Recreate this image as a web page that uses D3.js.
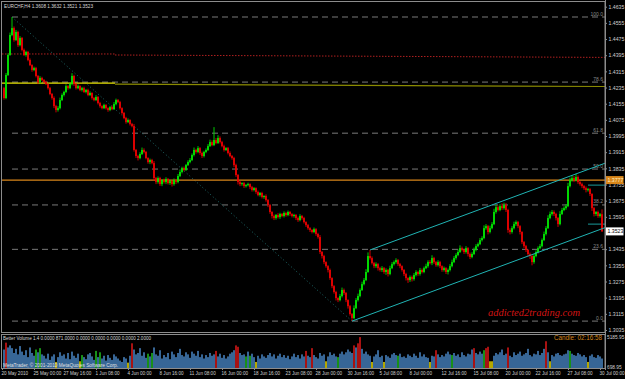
<!DOCTYPE html>
<html>
<head>
<meta charset="utf-8">
<script src="https://cdn.jsdelivr.net/npm/d3@7"></script>
<style>
  body { margin: 0; background: #000; }
  svg { display: block; }
</style>
</head>
<body>
<div id="chart"></div>
<script>
// EURCHF,H4 - closes, open = previous close
var firstOpen = 1.4232;
var closes = [
  1.4183, 1.4297, 1.4396, 1.4495, 1.4529, 1.4470, 1.4510, 1.4445, 1.4480, 1.4421,
  1.4396, 1.4411, 1.4371, 1.4346, 1.4322, 1.4331, 1.4292, 1.4262, 1.4282, 1.4272,
  1.4262, 1.4252, 1.4232, 1.4203, 1.4183, 1.4143, 1.4124, 1.4133, 1.4173, 1.4198,
  1.4213, 1.4242, 1.4232, 1.4252, 1.4292, 1.4252, 1.4232, 1.4242, 1.4223, 1.4232,
  1.4213, 1.4223, 1.4198, 1.4208, 1.4183, 1.4173, 1.4188, 1.4158, 1.4143, 1.4133,
  1.4148, 1.4133, 1.4124, 1.4138, 1.4128, 1.4153, 1.4173, 1.4163, 1.4133, 1.4109,
  1.4084, 1.4064, 1.4074, 1.4054, 1.4044, 1.3926, 1.3896, 1.3886, 1.3906, 1.3926,
  1.3916, 1.3886, 1.3866, 1.3876, 1.3861, 1.3787, 1.3767, 1.3787, 1.3757, 1.3777,
  1.3767, 1.3782, 1.3762, 1.3772, 1.3757, 1.3777, 1.3767, 1.3797, 1.3817, 1.3836,
  1.3827, 1.3851, 1.3866, 1.3876, 1.3901, 1.3926, 1.3916, 1.3935, 1.3911, 1.3896,
  1.3916, 1.3926, 1.3945, 1.3965, 1.3950, 1.3975, 1.3960, 1.3985, 1.3965, 1.3945,
  1.3926, 1.3935, 1.3911, 1.3896, 1.3886, 1.3851, 1.3802, 1.3767, 1.3757, 1.3762,
  1.3747, 1.3752, 1.3757, 1.3742, 1.3728, 1.3737, 1.3718, 1.3703, 1.3713, 1.3693,
  1.3698, 1.3678, 1.3653, 1.3619, 1.3599, 1.3589, 1.3604, 1.3594, 1.3609, 1.3599,
  1.3614, 1.3604, 1.3619, 1.3609, 1.3599, 1.3604, 1.3589, 1.3579, 1.3599, 1.3589,
  1.3569, 1.3554, 1.3539, 1.3530, 1.3520, 1.3534, 1.3510, 1.3495, 1.3421, 1.3401,
  1.3371, 1.3351, 1.3332, 1.3292, 1.3252, 1.3223, 1.3193, 1.3183, 1.3203, 1.3233,
  1.3218, 1.3183, 1.3153, 1.3114, 1.3094, 1.3143, 1.3183, 1.3203, 1.3233, 1.3262,
  1.3282, 1.3322, 1.3401, 1.3391, 1.3366, 1.3351, 1.3361, 1.3341, 1.3332, 1.3341,
  1.3322, 1.3332, 1.3312, 1.3341, 1.3361, 1.3371, 1.3381, 1.3361, 1.3351, 1.3332,
  1.3312, 1.3292, 1.3282, 1.3297, 1.3287, 1.3307, 1.3322, 1.3312, 1.3332, 1.3322,
  1.3341, 1.3351, 1.3371, 1.3366, 1.3391, 1.3371, 1.3356, 1.3371, 1.3351, 1.3332,
  1.3341, 1.3322, 1.3332, 1.3351, 1.3371, 1.3391, 1.3406, 1.3421, 1.3440, 1.3431,
  1.3421, 1.3440, 1.3411, 1.3396, 1.3411, 1.3431, 1.3450, 1.3460, 1.3480, 1.3490,
  1.3539, 1.3549, 1.3520, 1.3539, 1.3559, 1.3619, 1.3643, 1.3629, 1.3648, 1.3638,
  1.3653, 1.3629, 1.3530, 1.3520, 1.3539, 1.3559, 1.3569, 1.3549, 1.3520, 1.3470,
  1.3450, 1.3431, 1.3411, 1.3401, 1.3371, 1.3401, 1.3421, 1.3440, 1.3450, 1.3480,
  1.3510, 1.3539, 1.3589, 1.3609, 1.3619, 1.3609, 1.3589, 1.3559, 1.3609, 1.3629,
  1.3638, 1.3648, 1.3747, 1.3777, 1.3787, 1.3777, 1.3792, 1.3767, 1.3757, 1.3747,
  1.3737, 1.3728, 1.3732, 1.3708, 1.3638, 1.3609, 1.3619, 1.3599, 1.3608, 1.3523
];
// wick lengths in pips above / below the body
var hiWick = [
  6,10,8,12,55,8,10,6,9,5,7,6,5,8,4,7,6,5,9,6,
  5,7,4,6,5,8,6,10,12,8,6,9,5,7,14,6,5,8,4,6,
  7,5,6,8,4,5,9,5,6,4,7,5,4,6,8,10,7,5,6,4,
  5,6,8,4,6,10,5,6,9,12,8,5,4,7,6,10,5,8,6,4,
  7,9,5,6,4,8,6,10,12,7,8,6,9,10,8,12,6,10,5,7,
  6,8,10,12,9,64,10,14,8,6,7,5,6,8,5,6,7,5,6,4,
  6,5,7,4,6,5,4,7,5,6,4,8,5,6,4,7,5,9,6,5,
  8,6,7,5,4,6,5,7,9,5,6,4,6,5,4,8,5,6,10,5,
  6,4,5,7,4,5,6,4,10,12,7,5,4,6,5,14,10,12,8,12,
  10,14,18,30,8,6,9,5,7,10,6,8,5,12,10,8,9,5,6,4,
  5,6,4,8,7,10,9,6,10,7,8,12,9,10,14,6,5,9,6,4,
  8,5,7,10,12,10,9,12,14,8,6,10,5,7,9,12,10,8,10,9,
  14,10,6,12,10,16,12,8,10,14,12,10,6,8,10,12,8,6,5,4,
  5,6,4,7,6,10,8,9,10,8,12,10,14,12,10,8,6,5,14,10,
  9,10,16,12,14,10,16,8,6,7,5,8,6,5,4,6,5,7,6,24
];
var loWick = [
  8,6,5,4,6,8,5,9,6,7,5,8,6,5,9,6,7,10,8,5,
  6,5,7,6,8,10,12,8,6,5,7,6,8,5,6,9,7,5,6,8,
  5,7,6,5,8,6,5,7,8,6,5,7,9,6,5,4,6,5,7,8,
  6,8,5,7,6,8,10,12,6,5,7,6,8,10,6,12,10,8,9,10,
  8,10,7,9,12,8,10,6,5,7,6,5,4,6,5,7,8,6,9,10,
  7,6,5,4,6,5,6,4,7,6,8,5,7,6,8,10,9,12,10,8,
  9,7,6,10,8,7,9,6,8,7,9,8,10,9,12,10,8,7,9,6,
  7,8,6,9,7,8,10,9,6,8,7,9,8,10,7,6,9,8,10,12,
  10,8,12,9,10,8,12,10,6,7,9,10,12,8,15,6,5,7,6,5,
  6,5,4,8,7,10,9,12,8,10,9,14,12,6,5,7,8,9,10,8,
  10,12,14,9,12,8,7,9,8,7,6,5,8,6,10,9,8,7,10,9,
  8,10,12,7,6,5,8,6,5,7,10,8,12,10,6,5,7,6,5,7,
  6,8,12,7,6,5,8,7,6,9,8,10,14,12,8,6,9,10,12,10,
  9,10,12,14,16,8,6,7,5,6,5,7,4,6,8,10,12,14,6,5,
  6,8,5,6,8,10,7,9,8,10,9,12,8,10,14,12,10,9,8,2
];
var volumes = [
  3300,4300,3600,3900,3500,2800,3400,2600,3800,3000,2500,3200,2200,3600,2800,2400,3300,2900,3500,2600,
  2400,2000,2700,1800,2300,2600,1500,2200,2900,2400,2600,2000,2800,1900,3000,2400,2100,2700,1600,2500,
  2200,1900,2600,2800,2300,1800,3100,2200,2900,2000,2400,1700,2500,2100,1800,2600,2300,2000,1700,1500,
  2200,2000,1400,2400,4200,3300,2600,2800,3500,2400,2900,2100,2700,2300,2800,3600,2600,2400,3200,2000,
  2500,2200,2800,1900,3000,2600,2200,2800,3400,2500,2300,2900,2600,2100,3000,2700,2400,3100,2200,2600,
  2000,2500,2200,2800,2400,2600,3100,2300,2700,2100,2500,2000,2300,2700,2900,3200,3900,3700,2800,2500,
  2600,2300,3000,2400,2700,2200,1500,2400,2000,2600,2300,2100,2500,2800,2300,2600,2000,2400,2700,2200,
  2500,2100,2400,1900,2300,2700,2200,2500,2000,2600,2300,3100,2400,2200,3500,2500,2200,2000,2800,2400,
  2600,1600,2300,2900,2500,2700,2300,2200,2700,3000,2600,2900,3300,3000,2800,3900,3600,4200,5100,3400,
  2700,3000,2600,2400,1500,2300,2600,3200,2200,2400,1500,2500,2300,2100,2600,2800,2500,2400,2700,2200,
  2300,2100,2600,2400,2200,2700,2400,2100,2900,2300,2600,2200,2100,1500,2400,2300,3200,2600,2200,2500,
  2300,2700,3000,2600,2500,2800,2400,2600,2200,2900,2500,2300,2700,2600,3300,3500,2800,2600,3000,2700,
  3200,3500,3700,1600,1600,2400,2800,2600,2900,3300,2500,2700,3600,2400,2200,2900,2500,2700,3000,2400,
  2600,2800,3400,2500,2300,2700,2600,3100,2500,2800,3400,4500,2900,1600,2500,2300,2700,2800,2500,2400,
  2600,2700,3200,3100,2700,2500,2400,2800,2600,2300,2500,2200,1500,2400,2600,2200,2100,2500,2300,2000
];
var redVol = [1, 64, 106, 116, 117, 151, 154, 175, 177, 178, 216, 235, 241, 242, 252, 271];
var greenVol = [16, 18, 39, 46, 48, 72, 74, 121, 123, 167, 197, 224, 240, 283];
var yellowVol = [26, 38, 62, 126, 161, 184, 190, 213, 243, 244, 273, 292];

var priceTicks = [1.4635, 1.4555, 1.4475, 1.4395, 1.4315, 1.4235, 1.4155, 1.4075, 1.3995,
  1.3915, 1.3835, 1.3755, 1.3675, 1.3595, 1.3435, 1.3355, 1.3275, 1.3195, 1.3115, 1.3035];
var dateIdx = [-1, 15, 30, 46, 62, 78, 93, 109, 125, 141, 156, 172, 188, 203, 219, 235, 251, 266, 282, 298];
var dateLabels = ["20 May 2010", "25 May 00:00", "27 May 16:00", "1 Jun 08:00", "4 Jun 00:00",
  "8 Jun 16:00", "11 Jun 08:00", "16 Jun 00:00", "18 Jun 16:00", "23 Jun 08:00", "28 Jun 00:00",
  "30 Jun 16:00", "5 Jul 08:00", "8 Jul 00:00", "12 Jul 16:00", "15 Jul 08:00", "20 Jul 00:00",
  "22 Jul 16:00", "27 Jul 08:00", "30 Jul 00:00"];

// drawing objects, as [bar, price]
var fibHigh = [4, 1.4584], fibLow = [174, 1.3079];
var fibLevels = [100.0, 78.6, 61.8, 50.0, 38.2, 23.6, 0.0];
var channelLow = [[174, 1.3079], [299, 1.3536]];
var channelHigh = [[183, 1.3431], [299, 1.3855]];
var yellowLine = [[-1, 1.4257], [55.5, 1.4257]];
var oliveLine = [[55.5, 1.4252], [301.5, 1.4240]];
var redLine1 = [[-1, 1.4401], [55.5, 1.4401]];
var redLine2 = [[55.5, 1.4396], [301.5, 1.4384]];
var orangePrice = 1.3777;
var boxPrices = [1.3752, 1.3559];
var header = "EURCHF,H4  1.3608 1.3632 1.3521 1.3523";
var volHeader = "Better Volume 1.4 0.0000 871.0000 0.0000 0.0000 0.0000 0.0000 2.0000";
var volMax = 5185.95, volMin = 698.95;

var width = 625, height = 379;
var right = 605, mainTop = 2, mainBottom = 332, volTop = 335, volBottom = 368;

var svg = d3.select("#chart").append("svg")
    .attr("width", width)
    .attr("height", height)
    .style("background", "#000")
    .style("font-family", "'Liberation Sans', Arial, sans-serif");

var x = d3.scaleLinear().domain([0, 299]).range([4, 602]);
var y = d3.scaleLinear().domain([1.3035, 1.4635]).range([330, 6.7]);
var yv = d3.scaleLinear().domain([volMin, volMax]).range([367.5, 336.5]);

svg.append("clipPath").attr("id", "mainClip")
  .append("rect").attr("x", 2).attr("y", mainTop).attr("width", right - 2).attr("height", mainBottom - mainTop);

var main = svg.append("g").attr("clip-path", "url(#mainClip)");
var line = d3.line().x(function(d) { return x(d[0]); }).y(function(d) { return y(d[1]); });

// fibo levels
fibLevels.forEach(function(lv) {
  var p = fibLow[1] + (fibHigh[1] - fibLow[1]) * lv / 100;
  main.append("line")
    .attr("x1", x(fibHigh[0])).attr("x2", right)
    .attr("y1", y(p)).attr("y2", y(p))
    .attr("stroke", "#7a7a7a").attr("stroke-dasharray", "6,4");
  main.append("text")
    .attr("x", 603).attr("y", y(p) - 1.5)
    .attr("text-anchor", "end")
    .attr("fill", "#8a8a8a")
    .style("font-size", "5px")
    .text(lv.toFixed(1));
});

// diagonal fibo base line
main.append("path").datum([fibHigh, fibLow]).attr("d", line)
  .attr("stroke", "#1f6a6a").attr("stroke-dasharray", "1,2.5").attr("fill", "none");

main.append("path").datum(redLine1).attr("d", line)
  .attr("stroke", "#b02020").attr("stroke-dasharray", "1.5,1.5").attr("fill", "none");
main.append("path").datum(redLine2).attr("d", line)
  .attr("stroke", "#b02020").attr("stroke-dasharray", "1.5,1.5").attr("fill", "none");
main.append("path").datum(oliveLine).attr("d", line)
  .attr("stroke", "#8a8a00").attr("stroke-width", 1.2).attr("fill", "none");
main.append("path").datum(yellowLine).attr("d", line)
  .attr("stroke", "#e6e000").attr("stroke-width", 1.3).attr("fill", "none");

main.append("line")
  .attr("x1", 0).attr("x2", right)
  .attr("y1", y(orangePrice)).attr("y2", y(orangePrice))
  .attr("stroke", "#d9861a").attr("stroke-width", 1.2);

boxPrices.forEach(function(p) {
  main.append("line")
    .attr("x1", x(292)).attr("x2", right)
    .attr("y1", y(p)).attr("y2", y(p))
    .attr("stroke", "#1a9a9a");
});

// candles
var candles = closes.map(function(c, i) {
  var o = i == 0 ? firstOpen : closes[i - 1];
  return {
    i: i, o: o, c: c,
    h: Math.max(o, c) + (hiWick[i] || 0) / 10000,
    l: Math.min(o, c) - (loWick[i] || 0) / 10000
  };
});

var cg = main.append("g");
cg.selectAll("line.wick").data(candles).enter().append("line")
  .attr("class", "wick")
  .attr("x1", function(d) { return x(d.i); })
  .attr("x2", function(d) { return x(d.i); })
  .attr("y1", function(d) { return y(d.h); })
  .attr("y2", function(d) { return y(d.l); })
  .attr("stroke", function(d) { return d.c >= d.o ? "#00e000" : "#e80000"; })
  .attr("stroke-width", 0.9);
cg.selectAll("rect.body").data(candles).enter().append("rect")
  .attr("class", "body")
  .attr("x", function(d) { return x(d.i) - 0.85; })
  .attr("width", 1.7)
  .attr("y", function(d) { return y(Math.max(d.o, d.c)); })
  .attr("height", function(d) { return Math.max(1, Math.abs(y(d.o) - y(d.c))); })
  .attr("fill", function(d) { return d.c >= d.o ? "#00ee00" : "#f00000"; });

// channel on top of the bars
function extend(pts) {
  var s = (pts[1][1] - pts[0][1]) / (pts[1][0] - pts[0][0]);
  return [pts[0], [301.5, pts[0][1] + s * (301.5 - pts[0][0])]];
}
[channelLow, channelHigh].forEach(function(ch) {
  main.append("path").datum(extend(ch)).attr("d", line)
    .attr("stroke", "#20b4b4").attr("stroke-width", 1).attr("fill", "none");
});

main.append("text")
  .attr("x", 488).attr("y", 316)
  .attr("fill", "#d41414")
  .attr("textLength", 92).attr("lengthAdjust", "spacingAndGlyphs")
  .style("font-family", "'Liberation Serif', serif")
  .style("font-style", "italic")
  .style("font-size", "11px")
  .text("addicted2trading.com");

svg.append("text")
  .attr("x", 4).attr("y", 8)
  .attr("fill", "#d8d8d8")
  .attr("textLength", 89).attr("lengthAdjust", "spacingAndGlyphs")
  .style("font-size", "5.5px")
  .text(header);

// volume window
var vg = svg.append("g");
vg.selectAll("rect").data(volumes).enter().append("rect")
  .attr("x", function(d, i) { return x(i) - 0.75; })
  .attr("width", 1.5)
  .attr("y", function(d) { return yv(d); })
  .attr("height", function(d) { return volBottom - yv(d); })
  .attr("fill", function(d, i) {
    if (redVol.indexOf(i) >= 0) return "#e01818";
    if (greenVol.indexOf(i) >= 0) return "#20c020";
    if (yellowVol.indexOf(i) >= 0) return "#f0e000";
    return "#4a88c8";
  });

svg.append("text")
  .attr("x", 3).attr("y", 339.5)
  .attr("fill", "#d8d8d8")
  .attr("textLength", 148).attr("lengthAdjust", "spacingAndGlyphs")
  .style("font-size", "5.5px")
  .text(volHeader);

svg.append("text")
  .attr("x", 602).attr("y", 340)
  .attr("text-anchor", "end")
  .attr("fill", "#d4861c")
  .attr("textLength", 48).attr("lengthAdjust", "spacingAndGlyphs")
  .style("font-size", "7px")
  .text("Candle: 02:16:58");

svg.append("text")
  .attr("x", 3).attr("y", 366.5)
  .attr("fill", "#e0e0e0")
  .attr("textLength", 115).attr("lengthAdjust", "spacingAndGlyphs")
  .style("font-size", "5px")
  .text("MetaTrader, \u00a9 2001-2010 MetaQuotes Software Corp.");

// frames
var frame = svg.append("g").attr("stroke", "#8c8c8c").attr("fill", "none");
frame.append("rect").attr("x", 1.5).attr("y", 1.5).attr("width", right - 1.5).attr("height", mainBottom - 1);
frame.append("rect").attr("x", 1.5).attr("y", volTop - 0.5).attr("width", right - 1.5).attr("height", volBottom - volTop + 1);

// price axis
var yAxis = svg.append("g")
  .attr("transform", "translate(" + right + ",0)")
  .call(d3.axisRight(y).tickValues(priceTicks).tickFormat(d3.format(".4f")).tickSize(2).tickPadding(1.5));
yAxis.select(".domain").remove();
yAxis.selectAll("line").attr("stroke", "#8c8c8c");
yAxis.selectAll("text").attr("fill", "#d0d0d0").style("font-size", "5.2px");

// price label boxes
function priceBox(p, fill, color) {
  svg.append("rect").attr("x", right + 0.5).attr("y", y(p) - 4).attr("width", 18).attr("height", 8).attr("fill", fill);
  svg.append("text").attr("x", right + 2.5).attr("y", y(p) + 2)
    .attr("fill", color).style("font-size", "5.2px").text(p.toFixed(4));
}
priceBox(orangePrice, "#d9861a", "#fff0c0");
priceBox(closes[closes.length - 1], "#ffffff", "#000000");

// volume scale labels
svg.append("text").attr("x", 607).attr("y", 339).attr("fill", "#d0d0d0").style("font-size", "4.8px").text(volMax.toFixed(2));
svg.append("text").attr("x", 607).attr("y", 368.5).attr("fill", "#d0d0d0").style("font-size", "4.8px").text(volMin.toFixed(2));

// time axis
var xAxis = svg.append("g")
  .attr("transform", "translate(0," + volBottom + ")")
  .call(d3.axisBottom(x).tickValues(dateIdx)
    .tickFormat(function(d, i) { return dateLabels[i]; })
    .tickSize(2).tickPadding(1.5));
xAxis.select(".domain").remove();
xAxis.selectAll("line").attr("stroke", "#8c8c8c");
xAxis.selectAll("text")
  .attr("text-anchor", "start")
  .attr("dx", "-1")
  .attr("fill", "#d0d0d0")
  .style("font-size", "4.6px");

svg.append("line").attr("x1", right + 0.5).attr("x2", right + 0.5).attr("y1", 0).attr("y2", volBottom + 2)
  .attr("stroke", "#8c8c8c");
</script>
</body>
</html>
